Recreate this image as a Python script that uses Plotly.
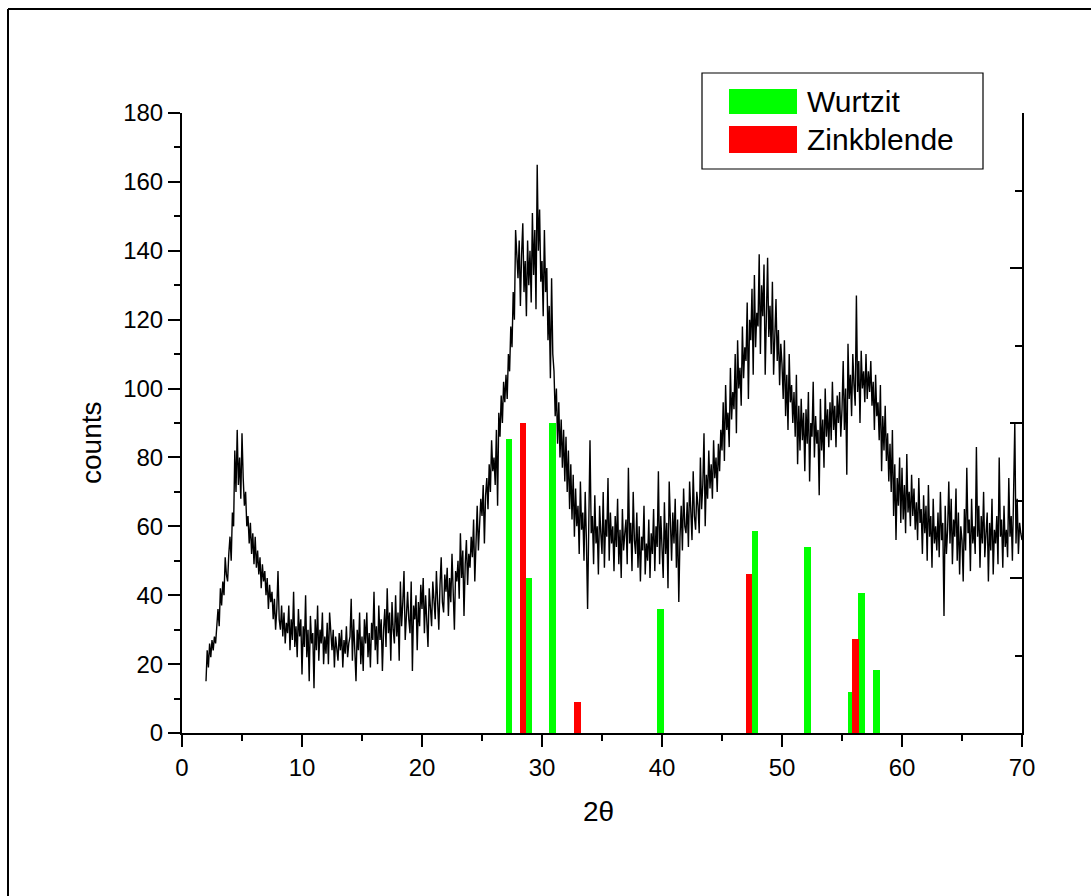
import plotly.graph_objects as go

# ---------------- data ----------------
two_theta_start = 2.0
two_theta_step = 0.1
counts_rows = [
    [15, 24, 19, 26, 22, 27, 24, 28, 26, 33],          # 2
    [36, 31, 42, 37, 44, 40, 51, 46, 44, 52],          # 3
    [57, 50, 64, 60, 82, 70, 88, 72, 80, 68],          # 4
    [87, 74, 66, 70, 60, 63, 55, 61, 52, 58],          # 5
    [49, 57, 48, 53, 46, 51, 42, 49, 44, 47],          # 6
    [40, 45, 36, 43, 38, 41, 33, 39, 30, 36],          # 7
    [47, 33, 30, 37, 28, 35, 26, 32, 29, 37],          # 8
    [24, 33, 27, 41, 25, 31, 22, 36, 28, 33],          # 9
    [17, 31, 25, 40, 22, 30, 15, 34, 26, 29],          # 10
    [13, 33, 24, 37, 21, 30, 26, 35, 20, 28],          # 11
    [23, 32, 20, 35, 27, 24, 30, 19, 28, 25],          # 12
    [21, 29, 24, 30, 19, 27, 23, 31, 22, 26],          # 13
    [28, 39, 21, 33, 25, 15, 30, 24, 35, 20],          # 14
    [28, 18, 33, 26, 35, 22, 29, 19, 32, 27],          # 15
    [41, 24, 31, 20, 37, 27, 33, 18, 30, 36],          # 16
    [25, 42, 29, 35, 21, 38, 30, 26, 40, 28],          # 17
    [35, 21, 44, 31, 38, 47, 27, 36, 41, 33],          # 18
    [29, 44, 18, 37, 33, 40, 24, 38, 31, 43],          # 19
    [36, 45, 29, 40, 34, 25, 42, 37, 31, 44],          # 20
    [39, 33, 47, 36, 30, 43, 51, 38, 35, 46],          # 21
    [41, 48, 34, 45, 38, 52, 42, 30, 47, 44],          # 22
    [50, 39, 58, 45, 53, 34, 49, 56, 43, 52],          # 23
    [48, 57, 51, 62, 44, 58, 66, 53, 60, 68],          # 24
    [63, 72, 55, 69, 74, 65, 78, 70, 85, 76],          # 25
    [80, 72, 88, 66, 93, 86, 98, 90, 102, 96],         # 26
    [104, 97, 110, 105, 118, 112, 128, 120, 146, 136], # 27
    [132, 143, 124, 139, 148, 128, 137, 121, 143, 130],# 28
    [140, 125, 151, 133, 146, 123, 165, 140, 152, 131],# 29
    [137, 121, 146, 128, 135, 114, 124, 103, 132, 110],# 30
    [105, 92, 100, 84, 96, 80, 91, 77, 88, 73],        # 31
    [86, 70, 82, 65, 78, 62, 75, 57, 71, 60],          # 32
    [66, 52, 73, 59, 64, 50, 70, 56, 36, 61],          # 33
    [85, 58, 63, 49, 69, 55, 60, 46, 66, 58],          # 34
    [52, 70, 48, 62, 57, 74, 50, 64, 55, 60],          # 35
    [47, 63, 54, 68, 49, 59, 45, 65, 53, 58],          # 36
    [62, 49, 77, 55, 61, 47, 70, 56, 52, 64],          # 37
    [48, 60, 44, 57, 53, 66, 46, 55, 50, 62],          # 38
    [45, 58, 52, 65, 47, 60, 54, 76, 49, 63],          # 39
    [56, 45, 67, 52, 61, 42, 73, 58, 50, 64],          # 40
    [55, 68, 48, 62, 38, 57, 66, 53, 71, 60],          # 41
    [58, 67, 54, 73, 61, 56, 76, 63, 59, 70],          # 42
    [66, 58, 80, 65, 72, 87, 60, 75, 68, 82],          # 43
    [71, 78, 68, 85, 74, 80, 70, 84, 76, 88],          # 44
    [82, 96, 79, 101, 88, 93, 83, 106, 91, 99],        # 45
    [94, 110, 87, 114, 100, 106, 95, 118, 103, 112],   # 46
    [108, 125, 97, 120, 114, 129, 104, 133, 112, 122], # 47
    [118, 139, 110, 130, 121, 136, 104, 127, 138, 115],# 48
    [124, 110, 131, 104, 120, 126, 108, 117, 101, 113],# 49
    [107, 97, 114, 92, 104, 88, 110, 96, 101, 90],     # 50
    [99, 86, 104, 78, 95, 82, 97, 85, 93, 76],         # 51
    [94, 84, 99, 73, 90, 86, 102, 80, 92, 84],         # 52
    [88, 69, 97, 82, 91, 77, 100, 86, 94, 83],         # 53
    [96, 85, 102, 88, 95, 83, 98, 90, 99, 86],         # 54
    [94, 108, 88, 100, 75, 113, 97, 104, 92, 110],     # 55
    [101, 95, 127, 99, 108, 90, 111, 100, 105, 96],    # 56
    [110, 97, 105, 99, 108, 95, 102, 88, 104, 92],     # 57
    [96, 85, 101, 76, 92, 82, 95, 79, 87, 73],         # 58
    [84, 70, 88, 63, 78, 56, 74, 66, 80, 61],          # 59
    [77, 62, 72, 58, 81, 64, 70, 60, 75, 63],          # 60
    [71, 59, 67, 56, 74, 61, 65, 52, 69, 58],          # 61
    [66, 50, 72, 57, 63, 48, 68, 55, 60, 53],          # 62
    [64, 51, 70, 56, 61, 34, 66, 52, 59, 73],          # 63
    [55, 68, 49, 62, 57, 71, 50, 64, 46, 60],          # 64
    [56, 44, 65, 53, 77, 58, 62, 47, 68, 55],          # 65
    [60, 52, 83, 57, 66, 48, 63, 55, 70, 51],          # 66
    [58, 64, 44, 61, 53, 68, 46, 59, 55, 63],          # 67
    [49, 80, 57, 62, 48, 66, 54, 59, 51, 74],          # 68
    [57, 63, 50, 77, 90, 55, 68, 52, 61, 58],          # 69
    [56],                                              # 70
]

# reference reflections
wurtzit_pos = [27.25, 28.85, 30.85, 39.9, 47.75, 52.1, 55.75, 56.65, 57.85]
wurtzit_int = [85.5, 45.0, 90.0, 36.0, 58.6, 54.1, 11.9, 40.7, 18.3]
zinkblende_pos = [28.42, 32.95, 47.25, 56.1]
zinkblende_int = [90.0, 8.9, 46.2, 27.2]

legend_labels = ["Wurtzit", "Zinkblende"]
x_title = "2θ"
y_title = "counts"

# ---------------- build ----------------
counts = [v for row in counts_rows for v in row]
two_theta = [round(two_theta_start + i * two_theta_step, 2) for i in range(len(counts))]

FONT = "Liberation Sans, Arial, sans-serif"
GREEN = "#00FF00"
RED = "#FF0000"

fig = go.Figure()
fig.add_trace(go.Scatter(x=two_theta, y=counts, mode="lines",
                         line=dict(color="black", width=1.4), showlegend=False))
fig.add_trace(go.Bar(x=wurtzit_pos, y=wurtzit_int, width=0.56, name=legend_labels[0],
                     marker=dict(color=GREEN, line=dict(width=0)), showlegend=False))
fig.add_trace(go.Bar(x=zinkblende_pos, y=zinkblende_int, width=0.56, name=legend_labels[1],
                     marker=dict(color=RED, line=dict(width=0)), showlegend=False))
# empty trace so the right-hand axis is drawn
fig.add_trace(go.Scatter(x=[None], y=[None], yaxis="y2", showlegend=False, hoverinfo="skip"))

L, R, T, B = 182, 69, 113, 163
W, H = 1091, 896
pw, ph = W - L - R, H - T - B

def px(xp):
    return (xp - L) / pw

def py(yp):
    return (H - B - yp) / ph

fig.update_layout(
    width=W, height=H, autosize=False,
    margin=dict(l=L, r=R, t=T, b=B, pad=0),
    paper_bgcolor="white", plot_bgcolor="white",
    barmode="overlay", bargap=0,
    font=dict(family=FONT, size=24, color="black"),
    xaxis=dict(range=[0, 70], dtick=10, tick0=0, showgrid=False, zeroline=False,
               showline=True, linecolor="black", linewidth=2, mirror=False,
               ticks="outside", ticklen=12, tickwidth=2, tickcolor="black",
               tickfont=dict(family=FONT, size=24, color="black"),
               minor=dict(dtick=5, tick0=0, ticks="outside", ticklen=6, tickwidth=2,
                          tickcolor="black", showgrid=False)),
    yaxis=dict(range=[0, 180], dtick=20, tick0=0, showgrid=False, zeroline=False,
               showline=True, linecolor="black", linewidth=2, mirror=False,
               ticks="outside", ticklen=12, tickwidth=2, tickcolor="black",
               tickfont=dict(family=FONT, size=24, color="black"),
               minor=dict(dtick=10, tick0=0, ticks="outside", ticklen=6, tickwidth=2,
                          tickcolor="black", showgrid=False)),
    yaxis2=dict(overlaying="y", side="right", range=[0, 4], dtick=1, tick0=0,
                showgrid=False, zeroline=False, showticklabels=False,
                showline=True, linecolor="black", linewidth=2,
                ticks="inside", ticklen=12, tickwidth=2, tickcolor="black",
                minor=dict(dtick=0.5, tick0=0, ticks="inside", ticklen=7, tickwidth=2,
                           tickcolor="black", showgrid=False)),
    showlegend=False,
)

shapes = []
# outer frame (left and top edges visible)
shapes.append(dict(type="line", xref="paper", yref="paper",
                   x0=px(8), x1=px(8), y0=py(9), y1=py(H + 5),
                   line=dict(color="black", width=2)))
shapes.append(dict(type="line", xref="paper", yref="paper",
                   x0=px(8), x1=px(W + 5), y0=py(9), y1=py(9),
                   line=dict(color="black", width=2)))
# legend box and swatches
shapes.append(dict(type="rect", xref="paper", yref="paper",
                   x0=px(702), x1=px(983), y0=py(169), y1=py(73),
                   line=dict(color="black", width=1.2), fillcolor="white"))
shapes.append(dict(type="rect", xref="paper", yref="paper",
                   x0=px(729), x1=px(797), y0=py(114), y1=py(89),
                   line=dict(width=0), fillcolor=GREEN))
shapes.append(dict(type="rect", xref="paper", yref="paper",
                   x0=px(729), x1=px(797), y0=py(153), y1=py(126),
                   line=dict(width=0), fillcolor=RED))
fig.update_layout(shapes=shapes)

annotations = [
    dict(text=legend_labels[0], xref="paper", yref="paper", x=px(805), y=py(101.5),
         xanchor="left", yanchor="middle", showarrow=False,
         font=dict(family=FONT, size=30, color="black")),
    dict(text=legend_labels[1], xref="paper", yref="paper", x=px(805), y=py(139.5),
         xanchor="left", yanchor="middle", showarrow=False,
         font=dict(family=FONT, size=30, color="black")),
    dict(text=y_title, xref="paper", yref="paper", x=px(91), y=py(443),
         xanchor="center", yanchor="middle", textangle=-90, showarrow=False,
         font=dict(family=FONT, size=28, color="black")),
    dict(text=x_title, xref="paper", yref="paper", x=px(598), y=py(811),
         xanchor="center", yanchor="middle", showarrow=False,
         font=dict(family=FONT, size=28, color="black")),
]
fig.update_layout(annotations=annotations)

fig.write_html("out.html")
